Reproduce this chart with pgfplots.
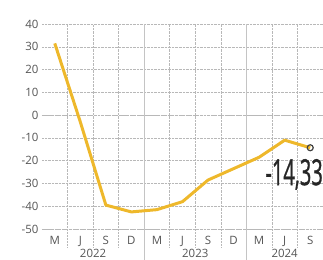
\documentclass[border=0pt]{standalone}
\usepackage{fontspec}
\setmainfont{Open Sans}
\newfontfamily\labfont[FakeBold=1.2]{Open Sans}
\usepackage{pgfplots}
\pgfplotsset{compat=1.18}
\definecolor{lineyel}{HTML}{EEB82B}
\definecolor{gridg}{HTML}{B8B8B8}
\definecolor{yearg}{HTML}{C4C4C4}
\definecolor{txtg}{HTML}{555555}
\begin{document}
\begin{tikzpicture}
\useasboundingbox (-42bp,-31bp) rectangle (281bp,229bp);
\begin{axis}[at={(0,0)}, anchor=south west, scale only axis,
  width=281bp, height=205bp,
  xmin=-0.5, xmax=10.5, ymin=-50, ymax=40,
  clip=false,
  axis line style={draw=none}, tick style={draw=none},
  /pgf/number format/assume math mode=true,
  ytick={-50,-40,...,40},
  xtick={0,...,10},
  xticklabels={M,J,S,D,M,J,S,D,M,J,S},
  minor xtick={0.5,1.5,2.5,4.5,5.5,6.5,8.5,9.5},
  ymajorgrids, xminorgrids,
  major grid style={gridg, densely dotted, line width=0.5bp},
  minor grid style={gridg, densely dotted, line width=0.5bp},
  tick label style={font=\fontsize{11.5}{12}\selectfont, text=txtg},
  xticklabel style={yshift=-4bp},
  extra y ticks={0,-50},
  extra y tick labels={},
  extra y tick style={grid style={solid, draw=black!60, line width=0.8bp}},
]
\draw[yearg, line width=0.8bp] (axis cs:3.5,40) -- ([yshift=-31bp]axis cs:3.5,-50);
\draw[yearg, line width=0.8bp] (axis cs:7.5,40) -- ([yshift=-31bp]axis cs:7.5,-50);
\pgfplotsinvokeforeach{0.5,1.5,2.5,4.5,5.5,6.5,8.5,9.5}{
  \draw[gridg, densely dotted, line width=0.5bp] (axis cs:#1,-50) -- ([yshift=-18bp]axis cs:#1,-50);
}
\node[anchor=base, text=txtg, font=\fontsize{11.5}{12}\selectfont] at (axis cs:1.5,-50) [yshift=-28.5bp] {2022};
\node[anchor=base, text=txtg, font=\fontsize{11.5}{12}\selectfont] at (axis cs:5.5,-50) [yshift=-28.5bp] {2023};
\node[anchor=base, text=txtg, font=\fontsize{11.5}{12}\selectfont] at (axis cs:9,-50) [yshift=-28.5bp] {2024};
\addplot[lineyel, line width=3bp, line join=round] coordinates {
(0,31.5) (1,-3) (2,-39.5) (3,-42.5) (4,-41.5) (5,-38) (6,-28.5) (7,-23.5) (8,-18.5) (9,-11) (10,-14.33)
};
\addplot[only marks, mark=o, mark size=3bp, mark options={draw=black!75, fill=white, line width=1.2bp}] coordinates {(10,-14.33)};
\node[anchor=base east, inner sep=0, text=black!85] at (axis cs:10.5,-30.7) {\scalebox{0.56}[1]{\fontsize{36}{36}\labfont -14,33}};
\end{axis}
\end{tikzpicture}
\end{document}
